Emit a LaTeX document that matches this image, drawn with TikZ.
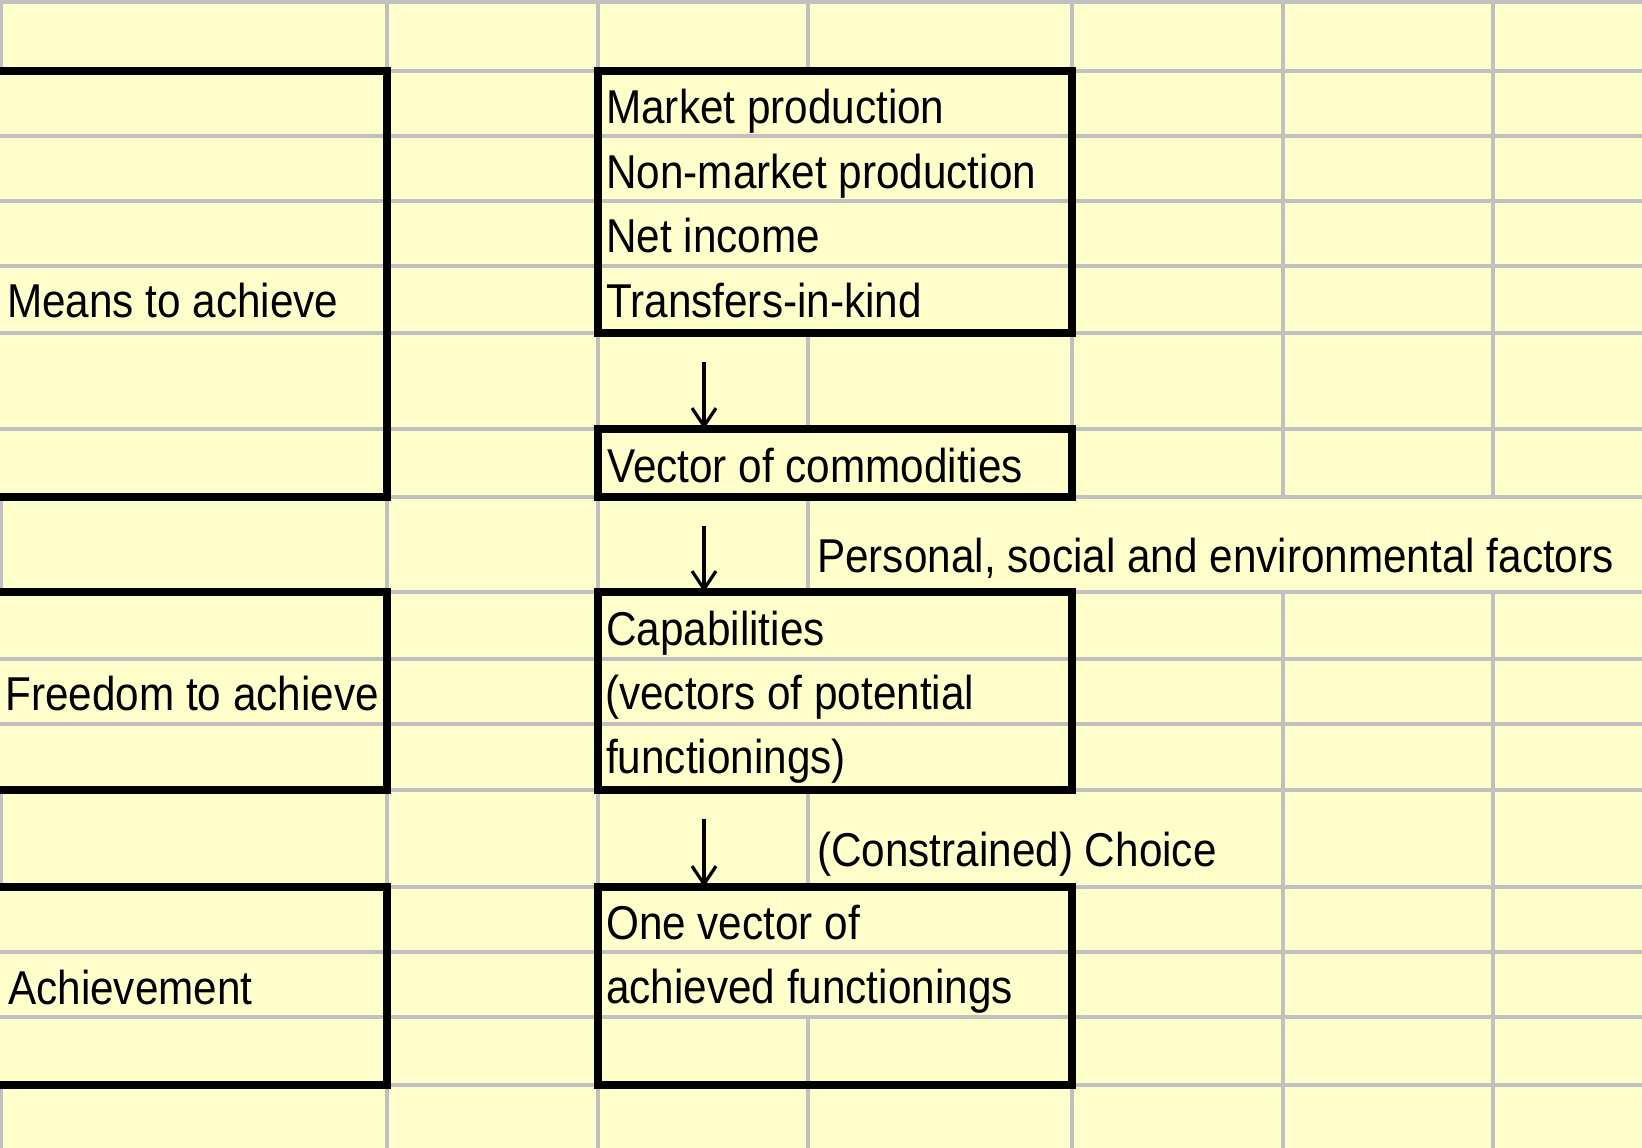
\documentclass[tikz,border=0pt]{standalone}
\usepackage{fontspec}
\setmainfont[FakeStretch=0.89]{Liberation Sans}
\usetikzlibrary{arrows.meta}
\definecolor{sheet}{HTML}{FFFFCC}
\definecolor{gridgray}{HTML}{C0C0C0}

\begin{document}
\begin{tikzpicture}[x=1pt,y=-1pt,
  gridline/.style={gridgray,line width=3.6pt},
  frame/.style={draw=black,line width=7.6pt,inner sep=0pt,outer sep=0pt,anchor=north west},
  cell/.style={anchor=base west,inner sep=0pt,font=\fontsize{47.5}{57}\selectfont},
  flow/.style={line width=3.2pt,-{Straight Barb[length=18pt,width=24pt,line width=3.2pt]}}]

\useasboundingbox (0,0) rectangle (1642,1148);
\fill[sheet] (0,0) rectangle (1642,1148);

% worksheet row lines
\foreach \y in {2,71,136,201,266,333,429,497,592,659,724,790,887,952,1017,1085}
  \draw[gridline] (0,\y) -- (1642,\y);

% worksheet column lines (hidden where text runs across)
\draw[gridline] (1,0) -- (1,71) (1,497) -- (1,592) (1,790) -- (1,887) (1,1085) -- (1,1148);
\draw[gridline] (387,0) -- (387,1148);
\draw[gridline] (598,0) -- (598,1148);
\draw[gridline] (808,0) -- (808,71) (808,333) -- (808,429) (808,497) -- (808,592)
                (808,790) -- (808,887) (808,1017) -- (808,1148);
\draw[gridline] (1072,0) -- (1072,497) (1072,592) -- (1072,790) (1072,887) -- (1072,1148);
\draw[gridline] (1283,0) -- (1283,497) (1283,592) -- (1283,1148);
\draw[gridline] (1493,0) -- (1493,497) (1493,592) -- (1493,1148);

% bordered blocks
\node[frame,minimum width=397pt,minimum height=426pt] (meansbox) at (-10,71) {};
\node[frame,minimum width=397pt,minimum height=198pt] (freebox) at (-10,592) {};
\node[frame,minimum width=397pt,minimum height=198pt] (achbox) at (-10,887) {};

\node[frame,minimum width=474pt,minimum height=262pt] (inputs) at (598,71) {};
\node[frame,minimum width=474pt,minimum height=68pt] (commod) at (598,429) {};
\node[frame,minimum width=474pt,minimum height=198pt] (capab) at (598,592) {};
\node[frame,minimum width=474pt,minimum height=198pt] (outcome) at (598,887) {};

% left column labels
\node[cell] (means) at (7,317) {Means to achieve};
\node[cell] (freedom) at (5,710) {Freedom to achieve};
\node[cell] (achieve) at (8,1004) {Achievement};

% middle column texts
\node[cell] (mkt) at (606,123) {Market production};
\node[cell] (nonmkt) at (606,188) {Non-market production};
\node[cell] (netinc) at (606,252) {Net income};
\node[cell] (transf) at (606,317) {Transfers-in-kind};
\node[cell] (vec) at (607,482) {Vector of commodities};
\node[cell] (cap1) at (606,645) {Capabilities};
\node[cell] (cap2) at (605,709) {(vectors of potential};
\node[cell] (cap3) at (606,773) {functionings)};
\node[cell] (one1) at (606,939) {One vector of};
\node[cell] (one2) at (606,1003) {achieved functionings};

% side notes
\node[cell] (factors) at (817,572) {Personal, social and environmental factors};
\node[cell] (choice) at (817,866) {(Constrained) Choice};

% flow arrows
\coordinate (a1) at (704,362);
\coordinate (a2) at (704,526);
\coordinate (a3) at (704,819);
\draw[flow] (a1) -- (a1 |- commod.north);
\draw[flow] (a2) -- (a2 |- capab.north);
\draw[flow] (a3) -- (a3 |- outcome.north);
\end{tikzpicture}
\end{document}
